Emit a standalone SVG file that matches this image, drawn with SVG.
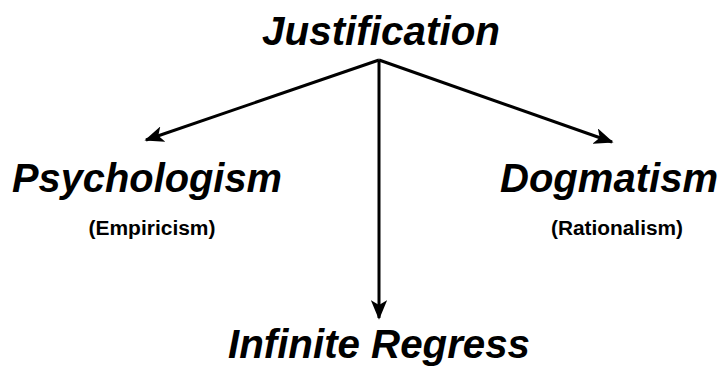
<svg xmlns="http://www.w3.org/2000/svg" width="720" height="374" viewBox="0 0 720 374">
<defs>
<style>
.title{font-family:"Liberation Sans","DejaVu Sans",sans-serif;font-weight:bold;font-style:italic;font-size:40px;fill:#000;text-anchor:middle}
.sub{font-family:"Liberation Sans","DejaVu Sans",sans-serif;font-weight:bold;font-size:20px;fill:#000;text-anchor:middle}
.edge{stroke:#000;stroke-width:3;fill:none;marker-end:url(#ah)}
</style>
<marker id="ah" viewBox="0 0 12 10" refX="11" refY="5" markerWidth="6.5" markerHeight="5.5" orient="auto" markerUnits="strokeWidth">
<path d="M0,0 L12,5 L0,10 L3,5 Z" fill="#000"/>
</marker>
</defs>
<rect width="720" height="374" fill="#fff"/>
<g id="connectors">
<line class="edge" x1="379" y1="60" x2="146" y2="140"/>
<line class="edge" x1="379" y1="60" x2="612" y2="142"/>
<line class="edge" x1="379" y1="60" x2="379" y2="318"/>
</g>
<g id="justification"><text class="title" x="381" y="45" textLength="238" lengthAdjust="spacingAndGlyphs">Justification</text></g>
<g id="psychologism">
<text class="title" x="147" y="192" textLength="270" lengthAdjust="spacingAndGlyphs">Psychologism</text>
<text class="sub" x="152" y="235" textLength="127" lengthAdjust="spacingAndGlyphs">(Empiricism)</text>
</g>
<g id="dogmatism">
<text class="title" x="609" y="192" textLength="218" lengthAdjust="spacingAndGlyphs">Dogmatism</text>
<text class="sub" x="617" y="235" textLength="132" lengthAdjust="spacingAndGlyphs">(Rationalism)</text>
</g>
<g id="infinite-regress"><text class="title" x="379" y="358" textLength="302" lengthAdjust="spacingAndGlyphs">Infinite Regress</text></g>
</svg>
